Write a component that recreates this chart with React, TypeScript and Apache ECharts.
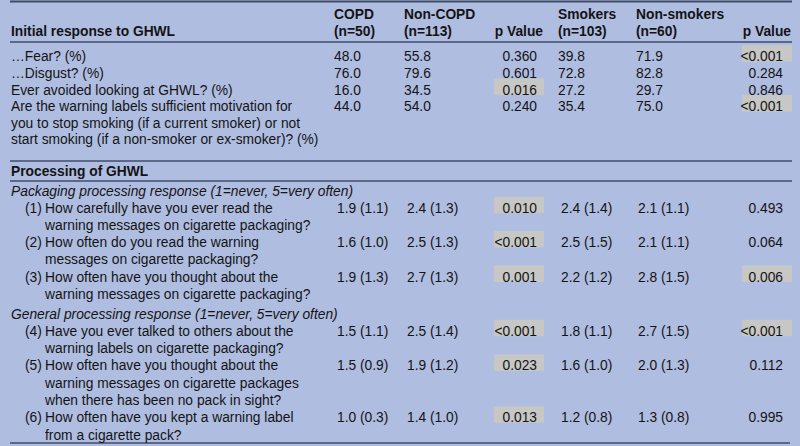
import React, { useEffect, useRef } from "react";
import * as echarts from "echarts";

// ---------- DATA ----------
const headerTop = ["COPD", "Non-COPD", "", "Smokers", "Non-smokers", ""];
const headerBottom = ["(n=50)", "(n=113)", "p Value", "(n=103)", "(n=60)", "p Value"];

const section1Title = "Initial response to GHWL";
const initialLabels: string[][] = [
  ["\u2026Fear? (%)"],
  ["\u2026Disgust? (%)"],
  ["Ever avoided looking at GHWL? (%)"],
  [
    "Are the warning labels sufficient motivation for",
    "you to stop smoking (if a current smoker) or not",
    "start smoking (if a non-smoker or ex-smoker)? (%)",
  ],
];
const copdInitial = ["48.0", "76.0", "16.0", "44.0"];
const nonCopdInitial = ["55.8", "79.6", "34.5", "54.0"];
const pCopdInitial = ["0.360", "0.601", "0.016", "0.240"];
const smokersInitial = ["39.8", "72.8", "27.2", "35.4"];
const nonSmokersInitial = ["71.9", "82.8", "29.7", "75.0"];
const pSmokeInitial = ["<0.001", "0.284", "0.846", "<0.001"];

const section2Title = "Processing of GHWL";
const packagingTitle = "Packaging processing response (1=never, 5=very often)";
const generalTitle = "General processing response (1=never, 5=very often)";

const packagingNums = ["(1)", "(2)", "(3)"];
const packagingLabels: string[][] = [
  ["How carefully have you ever read the", "warning messages on cigarette packaging?"],
  ["How often do you read the warning", "messages on cigarette packaging?"],
  ["How often have you thought about the", "warning messages on cigarette packaging?"],
];
const copdPackaging = ["1.9 (1.1)", "1.6 (1.0)", "1.9 (1.3)"];
const nonCopdPackaging = ["2.4 (1.3)", "2.5 (1.3)", "2.7 (1.3)"];
const pCopdPackaging = ["0.010", "<0.001", "0.001"];
const smokersPackaging = ["2.4 (1.4)", "2.5 (1.5)", "2.2 (1.2)"];
const nonSmokersPackaging = ["2.1 (1.1)", "2.1 (1.1)", "2.8 (1.5)"];
const pSmokePackaging = ["0.493", "0.064", "0.006"];

const generalNums = ["(4)", "(5)", "(6)"];
const generalLabels: string[][] = [
  ["Have you ever talked to others about the", "warning labels on cigarette packaging?"],
  [
    "How often have you thought about the",
    "warning messages on cigarette packages",
    "when there has been no pack in sight?",
  ],
  ["How often have you kept a warning label", "from a cigarette pack?"],
];
const copdGeneral = ["1.5 (1.1)", "1.5 (0.9)", "1.0 (0.3)"];
const nonCopdGeneral = ["2.5 (1.4)", "1.9 (1.2)", "1.4 (1.0)"];
const pCopdGeneral = ["<0.001", "0.023", "0.013"];
const smokersGeneral = ["1.8 (1.1)", "1.6 (1.0)", "1.2 (0.8)"];
const nonSmokersGeneral = ["2.7 (1.5)", "2.0 (1.3)", "1.3 (0.8)"];
const pSmokeGeneral = ["<0.001", "0.112", "0.995"];

// ---------- STYLE ----------
const BG = "#afbde1";
const HL = "#c7c7c5";
const LINE = "#3f4c68";
const TXT = "#141414";
const FONT_FAMILY = "'Liberation Sans', Arial, Helvetica, sans-serif";
const FS = 13.8;

const isSignificant = (p: string) => p.startsWith("<") || parseFloat(p) < 0.05;

function buildGraphics() {
  const els: any[] = [];
  const txt = (
    text: string,
    x: number,
    y: number,
    opts: { align?: string; weight?: string; italic?: boolean } = {}
  ) => {
    els.push({
      type: "text",
      x,
      y,
      silent: true,
      z: 10,
      style: {
        text,
        fill: TXT,
        font: `${opts.italic ? "italic " : ""}${opts.weight || "normal"} ${FS}px ${FONT_FAMILY}`,
        align: opts.align || "left",
        verticalAlign: "middle",
      },
    });
  };
  const hline = (y: number, x1 = 10, x2 = 792, w = 1.5) => {
    els.push({
      type: "line",
      silent: true,
      z: 5,
      shape: { x1, y1: y, x2, y2: y },
      style: { stroke: LINE, lineWidth: w },
    });
  };
  const hlBox = (xRight: number, y: number) => {
    els.push({
      type: "rect",
      silent: true,
      z: 1,
      shape: { x: xRight - 50, y: y - 11.5, width: 50, height: 16.5 },
      style: { fill: HL },
    });
  };

  // lines
  hline(1.5, 10, 792, 2);
  hline(42);
  hline(161);
  hline(181);
  hline(443, 10, 790);

  // header
  const colX1 = [334, 404, 543, 558, 636, 791];
  const headAlign = ["left", "left", "right", "left", "left", "right"];
  headerTop.forEach((t, i) => {
    if (t) txt(t, colX1[i], 14, { weight: "bold", align: headAlign[i] });
  });
  headerBottom.forEach((t, i) => {
    txt(t, colX1[i], 31, { weight: "bold", align: headAlign[i] });
  });
  txt(section1Title, 11, 31, { weight: "bold" });

  // section 1
  const vX1 = [334, 404, 537, 558, 636, 783];
  let y = 56.8;
  const lh1 = 16.6;
  initialLabels.forEach((lines, r) => {
    const vals = [
      copdInitial[r],
      nonCopdInitial[r],
      pCopdInitial[r],
      smokersInitial[r],
      nonSmokersInitial[r],
      pSmokeInitial[r],
    ];
    vals.forEach((v, i) => {
      const right = i === 2 || i === 5;
      if (right && isSignificant(v)) hlBox(i === 2 ? 544 : 792, y);
      txt(v, right ? vX1[i] : vX1[i], y, { align: right ? "right" : "left" });
    });
    lines.forEach((l, k) => txt(l, 11, y + k * lh1));
    y += lines.length * lh1;
  });

  // section 2
  txt(section2Title, 11, 171, { weight: "bold" });
  const vX2 = [337, 407, 537, 561, 638, 783];
  const drawGroup = (
    title: string,
    titleY: number,
    lh: number,
    nums: string[],
    labels: string[][],
    cols: string[][]
  ) => {
    txt(title, 11, titleY, { italic: true });
    let yy = titleY + lh;
    labels.forEach((lines, r) => {
      txt(nums[r], 25, yy);
      lines.forEach((l, k) => txt(l, 45, yy + k * lh));
      cols.forEach((col, i) => {
        const v = col[r];
        const right = i === 2 || i === 5;
        if (right && isSignificant(v)) hlBox(i === 2 ? 544 : 792, yy);
        txt(v, vX2[i], yy, { align: right ? "right" : "left" });
      });
      yy += lines.length * lh;
    });
  };
  drawGroup(packagingTitle, 191, 17.2, packagingNums, packagingLabels, [
    copdPackaging,
    nonCopdPackaging,
    pCopdPackaging,
    smokersPackaging,
    nonSmokersPackaging,
    pSmokePackaging,
  ]);
  drawGroup(generalTitle, 314, 17.3, generalNums, generalLabels, [
    copdGeneral,
    nonCopdGeneral,
    pCopdGeneral,
    smokersGeneral,
    nonSmokersGeneral,
    pSmokeGeneral,
  ]);

  return els;
}

export default function App() {
  const ref = useRef<HTMLDivElement>(null);
  useEffect(() => {
    if (!ref.current) return;
    const chart = echarts.init(ref.current, undefined, { renderer: "svg" });
    chart.setOption({
      animation: false,
      backgroundColor: BG,
      graphic: { elements: buildGraphics() },
    });
    return () => chart.dispose();
  }, []);
  return (
    <div
      ref={ref}
      style={{ position: "absolute", left: 0, top: 0, width: 800, height: 446 }}
    />
  );
}
